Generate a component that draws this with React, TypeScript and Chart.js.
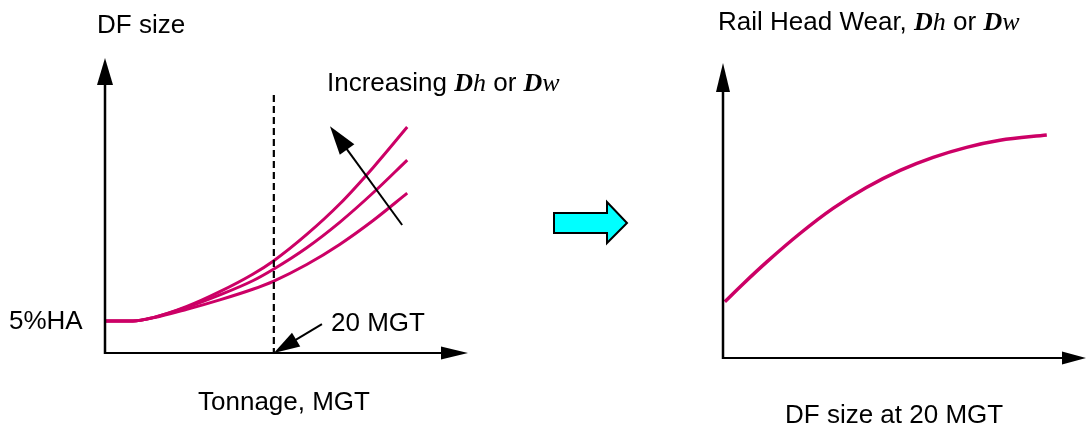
import React, { useEffect, useRef } from "react";
import { Chart, registerables } from "chart.js";

Chart.register(...registerables);

// ---- Left chart data: DF size vs tonnage (MGT) ----
const tonnage = [0, 3.3, 5.7, 9.7, 13.6, 17.5, 20, 23.9, 27.8, 31.8, 35.8];
const dfLow = [1.085, 1.085, 1.19, 1.48, 1.8, 2.16, 2.44, 3.0, 3.68, 4.5, 5.42];
const dfMid = [1.085, 1.085, 1.2, 1.55, 1.97, 2.45, 2.85, 3.57, 4.43, 5.44, 6.54];
const dfHigh = [1.085, 1.085, 1.2, 1.58, 2.08, 2.67, 3.13, 4.02, 5.05, 6.3, 7.66];
const MARK_MGT = 20;
const DASH_TOP = 8.75;

// ---- Right chart data: rail head wear vs DF size at 20 MGT ----
const dfAt20 = [0.05, 0.56, 1.2, 2.12, 3.04, 3.95, 4.88, 5.79, 6.71, 7.63, 8.92];
const headWear = [1.91, 2.52, 3.25, 4.22, 5.08, 5.78, 6.36, 6.8, 7.14, 7.38, 7.56];

const CURVE = "#CC0066";
const SANS = '26px "Liberation Sans", Arial, sans-serif';
const DELTA = 'italic bold 26px "Liberation Serif", "Times New Roman", serif';
const ITAL = 'italic 26px "Liberation Serif", "Times New Roman", serif';

type Part = { t: string; f: string };

function drawRich(ctx: CanvasRenderingContext2D, x: number, y: number, parts: Part[]) {
  ctx.textBaseline = "alphabetic";
  ctx.textAlign = "left";
  ctx.fillStyle = "#000";
  let cx = x;
  for (const p of parts) {
    ctx.font = p.f;
    ctx.fillText(p.t, cx, y);
    cx += ctx.measureText(p.t).width;
  }
}

function arrow(
  ctx: CanvasRenderingContext2D,
  x1: number, y1: number, x2: number, y2: number,
  headLen: number, headHalf: number, lw: number
) {
  const dx = x2 - x1, dy = y2 - y1;
  const len = Math.hypot(dx, dy);
  const ux = dx / len, uy = dy / len;
  const bx = x2 - ux * headLen, by = y2 - uy * headLen;
  ctx.strokeStyle = "#000";
  ctx.fillStyle = "#000";
  ctx.lineWidth = lw;
  ctx.setLineDash([]);
  ctx.beginPath();
  ctx.moveTo(x1, y1);
  ctx.lineTo(bx + ux * 2, by + uy * 2);
  ctx.stroke();
  ctx.beginPath();
  ctx.moveTo(x2, y2);
  ctx.lineTo(bx - uy * headHalf, by + ux * headHalf);
  ctx.lineTo(bx + uy * headHalf, by - ux * headHalf);
  ctx.closePath();
  ctx.fill();
}

const leftDecor = {
  id: "leftDecor",
  afterDraw(chart: any) {
    const { ctx, chartArea: a, scales } = chart;
    const x = scales.x, y = scales.y;
    ctx.save();
    // dashed 20 MGT marker
    const xd = x.getPixelForValue(MARK_MGT);
    ctx.strokeStyle = "#000";
    ctx.lineWidth = 2.2;
    ctx.setLineDash([7, 4]);
    ctx.beginPath();
    ctx.moveTo(xd, y.getPixelForValue(DASH_TOP));
    ctx.lineTo(xd, a.bottom);
    ctx.stroke();
    ctx.setLineDash([]);
    // axes with arrowheads
    arrow(ctx, a.left, a.bottom + 1, a.left, a.top, 27, 8, 2.5);
    arrow(ctx, a.left, a.bottom, a.right, a.bottom, 27, 6.5, 2);
    // "Increasing" arrow
    arrow(ctx, x.getPixelForValue(35.2), y.getPixelForValue(4.34),
      x.getPixelForValue(26.65), y.getPixelForValue(7.69), 29, 9, 2);
    // "20 MGT" pointer
    arrow(ctx, x.getPixelForValue(25.7), y.getPixelForValue(0.98),
      x.getPixelForValue(MARK_MGT), a.bottom, 26, 8, 2);
    // texts
    drawRich(ctx, 97, 33, [{ t: "DF size", f: SANS }]);
    drawRich(ctx, 327, 91, [
      { t: "Increasing ", f: SANS },
      { t: "D", f: DELTA },
      { t: "h", f: ITAL },
      { t: " or ", f: SANS },
      { t: "D", f: DELTA },
      { t: "w", f: ITAL },
    ]);
    drawRich(ctx, 331, 331, [{ t: "20 MGT", f: SANS }]);
    drawRich(ctx, 9, 329, [{ t: "5%HA", f: SANS }]);
    drawRich(ctx, 198, 410, [{ t: "Tonnage, MGT", f: SANS }]);
    // cyan transition arrow
    ctx.beginPath();
    ctx.moveTo(554, 213);
    ctx.lineTo(607, 213);
    ctx.lineTo(607, 202);
    ctx.lineTo(627, 223);
    ctx.lineTo(607, 243);
    ctx.lineTo(607, 233);
    ctx.lineTo(554, 233);
    ctx.closePath();
    ctx.fillStyle = "#00FFFF";
    ctx.fill();
    ctx.strokeStyle = "#000";
    ctx.lineWidth = 2;
    ctx.lineJoin = "miter";
    ctx.stroke();
    ctx.restore();
  },
};

const RIGHT_OFFSET = 640;

const rightDecor = {
  id: "rightDecor",
  afterDraw(chart: any) {
    const { ctx, chartArea: a } = chart;
    ctx.save();
    arrow(ctx, a.left, a.bottom + 1, a.left, a.top, 29, 7, 2.5);
    arrow(ctx, a.left, a.bottom, a.right, a.bottom, 24, 6.5, 2);
    drawRich(ctx, 718 - RIGHT_OFFSET, 30, [
      { t: "Rail Head Wear, ", f: SANS },
      { t: "D", f: DELTA },
      { t: "h", f: ITAL },
      { t: " or ", f: SANS },
      { t: "D", f: DELTA },
      { t: "w", f: ITAL },
    ]);
    drawRich(ctx, 785 - RIGHT_OFFSET, 423, [{ t: "DF size at 20 MGT", f: SANS }]);
    ctx.restore();
  },
};

function lineDs(xs: number[], ys: number[], w: number) {
  return {
    data: xs.map((v, i) => ({ x: v, y: ys[i] })),
    borderColor: CURVE,
    borderWidth: w,
    pointRadius: 0,
    fill: false,
    cubicInterpolationMode: "monotone" as const,
  };
}

const hiddenScales = (xmax: number) => ({
  x: { type: "linear" as const, min: 0, max: xmax, display: false },
  y: { type: "linear" as const, min: 0, max: 10, display: false },
});

export default function App() {
  const leftRef = useRef<HTMLCanvasElement>(null);
  const rightRef = useRef<HTMLCanvasElement>(null);

  useEffect(() => {
    const left = new Chart(leftRef.current as HTMLCanvasElement, {
      type: "line",
      data: {
        datasets: [
          lineDs(tonnage, dfLow, 3),
          lineDs(tonnage, dfMid, 3),
          lineDs(tonnage, dfHigh, 3),
        ],
      },
      options: {
        responsive: false,
        animation: false,
        events: [],
        layout: { padding: { left: 105, right: 172, top: 58, bottom: 75 } },
        scales: hiddenScales(43),
        plugins: { legend: { display: false }, tooltip: { enabled: false } },
      },
      plugins: [leftDecor],
    });
    const right = new Chart(rightRef.current as HTMLCanvasElement, {
      type: "line",
      data: { datasets: [lineDs(dfAt20, headWear, 3.5)] },
      options: {
        responsive: false,
        animation: false,
        events: [],
        layout: { padding: { left: 83, right: 0, top: 63, bottom: 70 } },
        scales: hiddenScales(10),
        plugins: { legend: { display: false }, tooltip: { enabled: false } },
      },
      plugins: [rightDecor],
    });
    return () => {
      left.destroy();
      right.destroy();
    };
  }, []);

  return (
    <div style={{ position: "absolute", left: 0, top: 0, width: 1086, height: 428, background: "#fff" }}>
      <canvas ref={leftRef} width={640} height={428}
        style={{ position: "absolute", left: 0, top: 0, width: 640, height: 428 }} />
      <canvas ref={rightRef} width={446} height={428}
        style={{ position: "absolute", left: RIGHT_OFFSET, top: 0, width: 446, height: 428 }} />
    </div>
  );
}
